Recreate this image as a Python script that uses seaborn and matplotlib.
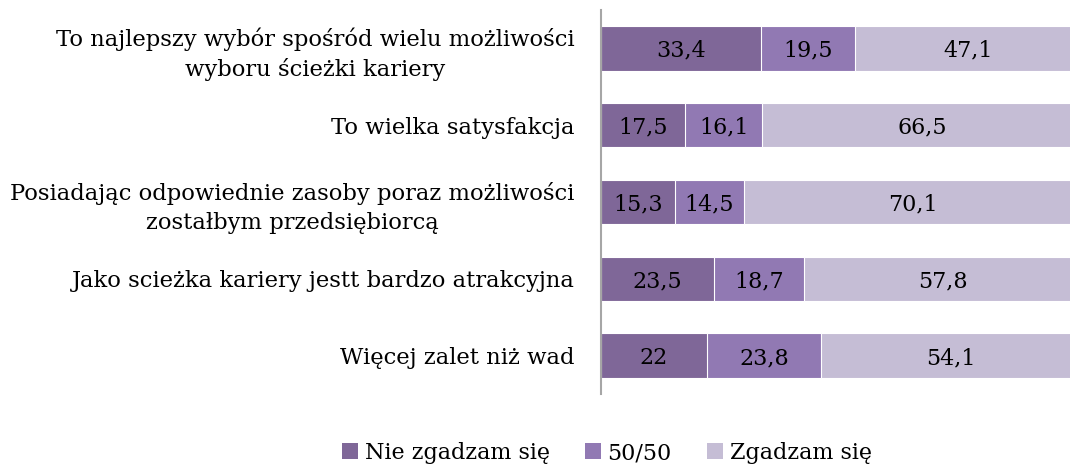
import numpy as np
import pandas as pd
import seaborn as sns
import matplotlib.pyplot as plt
from matplotlib.patches import Patch

# data
categories = [
    "To najlepszy wybór spośród wielu możliwości\nwyboru ścieżki kariery",
    "To wielka satysfakcja",
    "Posiadając odpowiednie zasoby poraz możliwości\nzostałbym przedsiębiorcą",
    "Jako scieżka kariery jestt bardzo atrakcyjna",
    "Więcej zalet niż wad",
]
nie_zgadzam = [33.4, 17.5, 15.3, 23.5, 22.0]
pol_na_pol = [19.5, 16.1, 14.5, 18.7, 23.8]
zgadzam = [47.1, 66.5, 70.1, 57.8, 54.1]
series_names = ["Nie zgadzam się", "50/50", "Zgadzam się"]
colors = ["#7f6798", "#9179b3", "#c5bdd5"]

sns.set_theme(style="white")
plt.rcParams['font.family'] = ['DejaVu Serif']
plt.rcParams['text.color'] = 'black'
plt.rcParams['ytick.color'] = 'black'

df = pd.DataFrame({"cat": categories, "a": nie_zgadzam, "b": pol_na_pol, "c": zgadzam})
df["cum1"] = df["a"]
df["cum2"] = df["a"] + df["b"]
df["cum3"] = df["a"] + df["b"] + df["c"]

fig = plt.figure(figsize=(10.7, 4.69), dpi=100)
ax = fig.add_axes([601 / 1070, 1 - 394 / 469, 1 - 601 / 1070, 384 / 469])

# stacked bars: draw cumulative totals from the back to the front
for col, color in zip(["cum3", "cum2", "cum1"], colors[::-1]):
    sns.barplot(data=df, x=col, y="cat", orient="h", color=color, width=0.58,
                edgecolor="white", linewidth=0.8, saturation=1, ax=ax)

def fmt(v):
    s = f"{v:.1f}".replace(".", ",")
    return s[:-2] if s.endswith(",0") else s

for i, row in df.iterrows():
    starts = [0, row["cum1"], row["cum2"]]
    for s, v in zip(starts, [row["a"], row["b"], row["c"]]):
        ax.text(s + v / 2, i, fmt(v), ha="center", va="center_baseline",
                fontsize=16, color="black")

ax.set_xlim(0, 97.6)
ax.set_ylim(4.5, -0.5)
ax.set_xlabel("")
ax.set_ylabel("")
ax.set_xticks([])
ax.tick_params(axis="y", length=0, pad=19, labelsize=16.3, labelcolor="black")
for lbl in ax.get_yticklabels():
    lbl.set_multialignment("center")
    lbl.set_linespacing(1.4)
for side in ["top", "right", "bottom"]:
    ax.spines[side].set_visible(False)
ax.spines["left"].set_color("#a6a6a6")
ax.spines["left"].set_linewidth(1.5)

handles = [Patch(facecolor=c, edgecolor="none") for c in colors]
fig.legend(handles, series_names, loc="center", bbox_to_anchor=(607 / 1070, 1 - 453 / 469),
           ncol=3, frameon=False, fontsize=16, handlelength=0.7, handleheight=0.7,
           handletextpad=0.3, columnspacing=1.6)

plt.savefig("out.png", dpi=100)
